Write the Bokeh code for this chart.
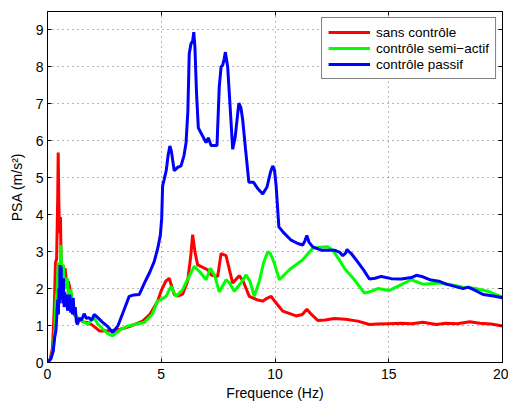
from bokeh.plotting import figure
from bokeh.models import Range1d, LinearAxis, Legend, LegendItem, FixedTicker
from bokeh.embed import file_html
from bokeh.resources import INLINE

# ---- data ----
x_ticks = [0, 5, 10, 15, 20]
y_ticks = [0, 1, 2, 3, 4, 5, 6, 7, 8, 9]

series_names = ["sans contrôle", "contrôle semi\u2212actif", "contrôle passif"]

red_x = [0, 0.12, 0.22, 0.3, 0.35, 0.4, 0.45, 0.47, 0.5, 0.53, 0.57, 0.6, 0.63, 0.67, 0.72, 0.77,
         0.85, 0.92, 1.0, 1.05, 1.1, 1.17, 1.25, 1.39, 1.55, 1.76, 2.0, 2.1, 2.27, 2.4, 2.64, 2.79,
         3.2, 3.6, 4.18, 4.5, 4.84, 4.99, 5.2, 5.35, 5.57, 5.75, 5.94, 6.16, 6.3, 6.38, 6.48, 6.6,
         7.04, 7.19, 7.48, 7.63, 7.85, 8.0, 8.14, 8.43, 8.6, 8.87, 9.2, 9.46, 9.6, 9.83, 10.0,
         10.34, 10.93, 11.2, 11.4, 11.6, 11.88, 12.2, 12.61, 13.1, 13.64, 14.15, 14.5, 15.0,
         15.55, 16.0, 16.5, 17.09, 17.5, 18.0, 18.56, 19.0, 19.5, 20]
red_y = [0, 0.1, 0.4, 1.5, 2.7, 2.8, 4.5, 5.68, 4.3, 3.5, 3.94, 2.7, 2.5, 2.65, 2.3, 2.55,
         2.1, 2.2, 1.95, 1.8, 1.55, 1.3, 1.25, 1.17, 1.1, 1.08, 1.0, 0.95, 0.86, 0.85, 0.86, 0.86,
         0.9, 0.97, 1.12, 1.3, 1.66, 1.93, 2.2, 2.28, 1.84, 1.8, 1.85, 2.2, 2.9, 3.46, 3.0, 2.64,
         2.51, 2.37, 2.33, 2.95, 2.89, 2.5, 2.15, 2.35, 2.2, 1.79, 1.7, 1.66, 1.72, 1.79, 1.65,
         1.39, 1.26, 1.3, 1.44, 1.3, 1.14, 1.15, 1.19, 1.17, 1.12, 1.03, 1.04, 1.05,
         1.06, 1.05, 1.09, 1.03, 1.06, 1.05, 1.10, 1.06, 1.04, 0.99]

green_x = [0, 0.15, 0.25, 0.32, 0.37, 0.42, 0.47, 0.52, 0.56, 0.59, 0.62, 0.66, 0.7, 0.73, 0.78,
           0.82, 0.87, 0.92, 0.97, 1.03, 1.08, 1.15, 1.25, 1.32, 1.45, 1.6, 1.76, 1.9, 2.05, 2.2,
           2.45, 2.65, 2.86, 3.23, 3.5, 3.81, 4.25, 4.6, 4.84, 4.99, 5.21, 5.43, 5.65, 5.94, 6.2,
           6.45, 6.7, 6.97, 7.16, 7.35, 7.55, 7.85, 8.0, 8.21, 8.5, 8.73, 8.9, 9.09, 9.31, 9.5,
           9.68, 9.8, 9.97, 10.19, 10.63, 11.22, 11.66, 12.0, 12.32, 12.54, 12.8, 13.05, 13.49,
           13.93, 14.2, 14.52, 15.03, 15.55, 15.99, 16.5, 17.24, 17.8, 18.27, 18.85, 19.4, 20]
green_y = [0, 0.1, 0.35, 0.9, 1.7, 1.93, 2.7, 2.4, 2.7, 3.18, 2.5, 2.3, 2.64, 2.2, 2.3,
           2.0, 2.28, 1.8, 1.9, 1.97, 1.6, 1.5, 1.25, 1.21, 1.15, 1.1, 1.03, 1.12, 1.21, 1.05,
           0.9, 0.78, 0.72, 0.9, 0.98, 1.03, 1.08, 1.3, 1.66, 1.7, 1.79, 2.06, 1.79, 1.97, 2.3,
           2.6, 2.45, 2.24, 2.55, 2.35, 1.91, 2.24, 2.15, 1.93, 2.15, 2.37, 2.2, 1.79, 2.2, 2.7,
           3.0, 2.95, 2.69, 2.24, 2.51, 2.78, 3.09, 3.12, 3.13, 3.04, 2.8, 2.55, 2.24,
           1.88, 1.92, 2.0, 1.95, 2.11, 2.24, 2.12, 2.15, 2.1, 2.04, 2.0, 1.92, 1.77]

blue_x = [0, 0.15, 0.25, 0.32, 0.37, 0.42, 0.45, 0.48, 0.5, 0.53, 0.55, 0.58, 0.6, 0.62, 0.65,
          0.68, 0.7, 0.73, 0.76, 0.79, 0.81, 0.85, 0.88, 0.92, 0.95, 0.98, 1.02, 1.06, 1.1, 1.13,
          1.17, 1.22, 1.27, 1.32, 1.4, 1.5, 1.61, 1.7, 1.83, 1.95, 2.05, 2.2, 2.4, 2.64, 2.86,
          3.1, 3.35, 3.59, 3.8, 4.03, 4.3, 4.5, 4.69, 4.85, 4.96, 5.02, 5.06, 5.13, 5.22, 5.3,
          5.38, 5.45, 5.57, 5.72, 5.87, 6.0, 6.09, 6.17, 6.23, 6.31, 6.38, 6.43, 6.48, 6.55, 6.63,
          6.8, 6.97, 7.07, 7.19, 7.45, 7.55, 7.63, 7.7, 7.76, 7.82, 7.87, 7.92, 8.0, 8.14, 8.25,
          8.41, 8.5, 8.58, 8.7, 8.85, 9.05, 9.25, 9.46, 9.65, 9.8, 9.9, 9.98, 10.05, 10.17, 10.4,
          10.71, 11.0, 11.22, 11.32, 11.4, 11.5, 11.66, 12.03, 12.3, 12.61, 12.85, 12.98, 13.1,
          13.17, 13.25, 13.35, 13.6, 13.9, 14.15, 14.4, 14.67, 15.11, 15.55, 16.0, 16.21, 16.5,
          16.8, 17.2, 17.53, 17.9, 18.27, 18.49, 18.8, 19.15, 19.6, 20]
blue_y = [0, 0.1, 0.3, 0.7, 0.86, 1.4, 1.7, 1.3, 2.0, 1.6, 2.64, 1.7, 2.6, 1.7, 2.1,
          1.6, 2.28, 1.5, 1.9, 1.55, 1.53, 1.84, 1.4, 1.7, 1.5, 1.84, 1.35, 1.6, 1.3, 1.75,
          1.3, 1.5, 1.1, 1.03, 1.2, 1.15, 1.32, 1.2, 1.21, 1.15, 1.3, 1.22, 1.1, 0.98, 0.81,
          1.0, 1.4, 1.79, 1.83, 1.84, 2.2, 2.45, 2.73, 3.1, 3.45, 3.9, 4.78, 4.96, 5.2, 5.6,
          5.86, 5.7, 5.19, 5.28, 5.32, 5.6, 5.95, 6.8, 8.36, 8.63, 8.7, 8.94, 8.54, 7.3, 6.35,
          6.15, 5.95, 6.08, 5.87, 5.87, 7.46, 8.0, 8.05, 8.2, 8.4, 8.2, 8.0, 7.2, 5.77, 6.1,
          7.02, 6.9, 6.57, 5.8, 4.88, 4.88, 4.7, 4.56, 4.75, 5.15, 5.32, 5.2, 4.78, 3.67, 3.5,
          3.31, 3.22, 3.18, 3.3, 3.44, 3.25, 3.13, 3.04, 3.04, 3.04, 2.98, 2.89, 2.96,
          3.06, 3.0, 2.95, 2.75, 2.5, 2.26, 2.28, 2.33, 2.27, 2.26, 2.3, 2.36, 2.32,
          2.24, 2.2, 2.12, 2.06, 2.0, 2.04, 1.95, 1.84, 1.8, 1.75]

for a, b in [(red_x, red_y), (green_x, green_y), (blue_x, blue_y)]:
    assert len(a) == len(b), (len(a), len(b))

FONT = "Liberation Sans"

p = figure(width=508, height=403, output_backend="svg", toolbar_location=None,
           x_range=Range1d(0, 20), y_range=Range1d(0, 9.5),
           min_border_left=47, min_border_right=6, min_border_top=11, min_border_bottom=38)
p.background_fill_color = "white"
p.border_fill_color = "white"
p.outline_line_color = "black"
p.outline_line_width = 1

for ax in (p.xaxis[0], p.yaxis[0]):
    ax.major_tick_in = 4
    ax.major_tick_out = 0
    ax.minor_tick_line_color = None
    ax.axis_line_color = "black"
    ax.major_tick_line_color = "black"
    ax.major_label_text_font = FONT
    ax.major_label_text_font_size = "14px"
    ax.major_label_text_color = "black"
    ax.axis_label_text_font = FONT
    ax.axis_label_text_font_size = "14px"
    ax.axis_label_text_font_style = "normal"
    ax.axis_label_text_color = "black"

p.xaxis[0].ticker = FixedTicker(ticks=x_ticks)
p.yaxis[0].ticker = FixedTicker(ticks=y_ticks)
p.xaxis[0].axis_label = "Frequence (Hz)"
p.yaxis[0].axis_label = "PSA (m/s²)"
p.xaxis[0].major_label_standoff = 6
p.xaxis[0].axis_label_standoff = 3
p.yaxis[0].major_label_standoff = 4
p.yaxis[0].axis_label_standoff = 8

# box ticks on top and right (MATLAB style), without labels
for loc, tk in (("right", y_ticks), ("above", x_ticks)):
    a = LinearAxis(ticker=FixedTicker(ticks=tk))
    a.major_tick_in = 4
    a.major_tick_out = 0
    a.minor_tick_line_color = None
    a.major_label_text_font_size = "1px"
    a.major_label_text_color = None
    a.major_label_standoff = 0
    a.axis_line_color = "black"
    a.major_tick_line_color = "black"
    p.add_layout(a, loc)

for g in (p.xgrid[0], p.ygrid[0]):
    g.grid_line_color = "black"
    g.grid_line_alpha = 0.55
    g.grid_line_dash = "1 4"
    g.grid_line_width = 1

r_red = p.line(red_x, red_y, line_color="#ff0000", line_width=3)
r_green = p.line(green_x, green_y, line_color="#00ff00", line_width=3)
r_blue = p.line(blue_x, blue_y, line_color="#0000ff", line_width=3)

legend = Legend(items=[LegendItem(label=series_names[0], renderers=[r_red]),
                       LegendItem(label=series_names[1], renderers=[r_green]),
                       LegendItem(label=series_names[2], renderers=[r_blue])],
                location="top_right")
legend.margin = 6
legend.padding = 6
legend.spacing = 0
legend.glyph_width = 42
legend.glyph_height = 16
legend.label_height = 16
legend.label_standoff = 6
legend.label_text_font = FONT
legend.label_text_font_size = "13.5px"
legend.label_text_color = "black"
legend.border_line_color = "black"
legend.border_line_width = 1
legend.background_fill_color = "white"
legend.background_fill_alpha = 1
p.add_layout(legend, "center")

open("out.html", "w").write(file_html(p, INLINE))
